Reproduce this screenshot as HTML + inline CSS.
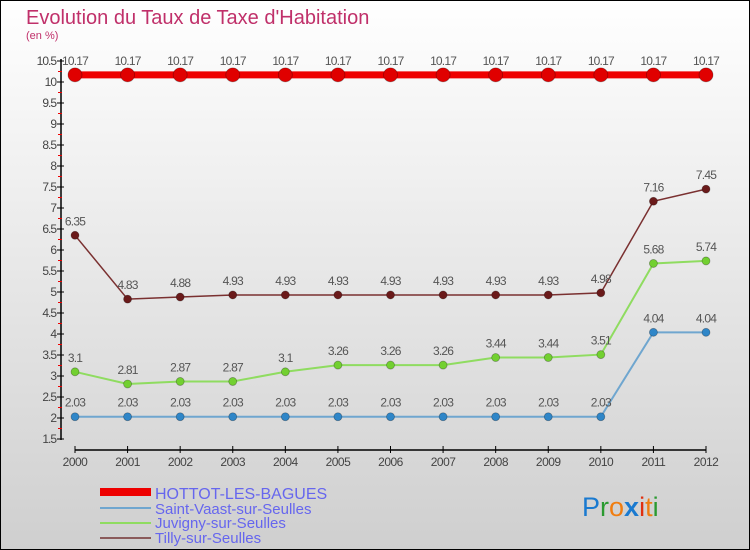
<!DOCTYPE html>
<html><head><meta charset="utf-8"><style>
body{margin:0}
#c{width:750px;height:550px;position:relative;overflow:hidden}
svg text{font-family:"Liberation Sans","DejaVu Sans",sans-serif}
</style></head><body>
<div id="c">
<svg id="s" width="750" height="550" xmlns="http://www.w3.org/2000/svg">
<defs><linearGradient id="bg" x1="0" y1="0" x2="0" y2="1"><stop offset="0" stop-color="#ffffff"/><stop offset="1" stop-color="#cfcfcf"/></linearGradient></defs>
<rect x="0.5" y="0.5" width="749" height="549" fill="url(#bg)" stroke="#000"/>
<text x="26" y="24" font-size="20" fill="#c0306a">Evolution du Taux de Taxe d'Habitation</text>
<text x="26" y="39" font-size="11" fill="#c0306a">(en %)</text>
<g id="axes"></g><g id="series"></g>
<g>
<rect x="100" y="488" width="51" height="8" fill="#ee0000"/>
<text x="155" y="499" font-size="16" fill="#6666ee">HOTTOT-LES-BAGUES</text>
<line x1="100" y1="508" x2="151" y2="508" stroke="#6fa6cf" stroke-width="2"/>
<text x="155" y="514" font-size="15" fill="#6666ee">Saint-Vaast-sur-Seulles</text>
<line x1="100" y1="523" x2="151" y2="523" stroke="#8fdc60" stroke-width="2"/>
<text x="155" y="528" font-size="15" fill="#6666ee">Juvigny-sur-Seulles</text>
<line x1="100" y1="538" x2="151" y2="538" stroke="#8a5a5a" stroke-width="2"/>
<text x="155" y="543" font-size="15" fill="#6666ee">Tilly-sur-Seulles</text>
</g>
<text x="582" y="516" font-size="27"><tspan fill="#1a7ad0">P</tspan><tspan fill="#2a9a30">r</tspan><tspan fill="#f07d10">o</tspan><tspan fill="#1a7ad0" font-weight="bold">x</tspan><tspan fill="#e03010">i</tspan><tspan fill="#f07d10">t</tspan><tspan fill="#2a9a30">i</tspan></text>
</svg></div>
<script>
const years=["2000","2001","2002","2003","2004","2005","2006","2007","2008","2009","2010","2011","2012"];
const hottot=[10.17,10.17,10.17,10.17,10.17,10.17,10.17,10.17,10.17,10.17,10.17,10.17,10.17];
const saintVaast=[2.03,2.03,2.03,2.03,2.03,2.03,2.03,2.03,2.03,2.03,2.03,4.04,4.04];
const juvigny=[3.1,2.81,2.87,2.87,3.1,3.26,3.26,3.26,3.44,3.44,3.51,5.68,5.74];
const tilly=[6.35,4.83,4.88,4.93,4.93,4.93,4.93,4.93,4.93,4.93,4.98,7.16,7.45];
const yTicks=["1.5","2","2.5","3","3.5","4","4.5","5","5.5","6","6.5","7","7.5","8","8.5","9","9.5","10","10.5"];
const NS="http://www.w3.org/2000/svg";
const xs=i=>75+i*(706-75)/(years.length-1);
const ys=v=>61+(10.5-v)*42;
function el(t,a,p){const e=document.createElementNS(NS,t);for(const k in a)e.setAttribute(k,a[k]);p.appendChild(e);return e;}
const ax=document.getElementById('axes');
const yl=el('line',{x1:61,y1:59,x2:61,y2:440,stroke:'#000','stroke-width':1.5},ax);


yTicks.forEach((t,k)=>{const v=parseFloat(t),y=ys(v);
el('line',{x1:57,y1:y,x2:64,y2:y,stroke:'#000'},ax);
if(k>0)el('line',{x1:58,y1:y+10.5,x2:62,y2:y+10.5,stroke:'#e00'},ax);
const tx=el('text',{x:56,y:y+4,'font-size':12,'text-anchor':'end',fill:'#444','letter-spacing':'-1'},ax);


tx.textContent=t;});
const xl=el('line',{x1:75,y1:450,x2:706,y2:450,stroke:'#000','stroke-width':1.5},ax);


years.forEach((yr,i)=>{const x=xs(i);el('line',{x1:x,y1:446,x2:x,y2:453,stroke:'#000'},ax);
const tx=el('text',{x:x,y:466,'font-size':12,'text-anchor':'middle',fill:'#444','letter-spacing':'-0.5'},ax);


tx.textContent=yr;});
const sg=document.getElementById('series');
function series(name,data,color,dot,w,r){
const g=el('g',{},sg);


el('polyline',{points:data.map((v,i)=>xs(i)+','+ys(v)).join(' '),fill:'none',stroke:color,'stroke-width':w},g);
data.forEach((v,i)=>{const c=el('circle',{cx:xs(i),cy:ys(v),r:r,fill:dot,stroke:'rgba(0,0,0,0.3)','stroke-width':0.8},g);


const t=el('text',{x:xs(i),y:ys(v)-10,'font-size':12,'text-anchor':'middle',fill:'#555','letter-spacing':'-0.8'},g);


t.textContent=String(v);});}
series('saint-vaast-line',saintVaast,'#6fa6cf','#2f86c8',2,4);
series('juvigny-line',juvigny,'#8fdc60','#72d030',2,4);
series('tilly-line',tilly,'#7a3030','#6a1a1a',1.5,4);
series('hottot-line',hottot,'#ee0000','#e00000',7,7);
</script></body></html>
